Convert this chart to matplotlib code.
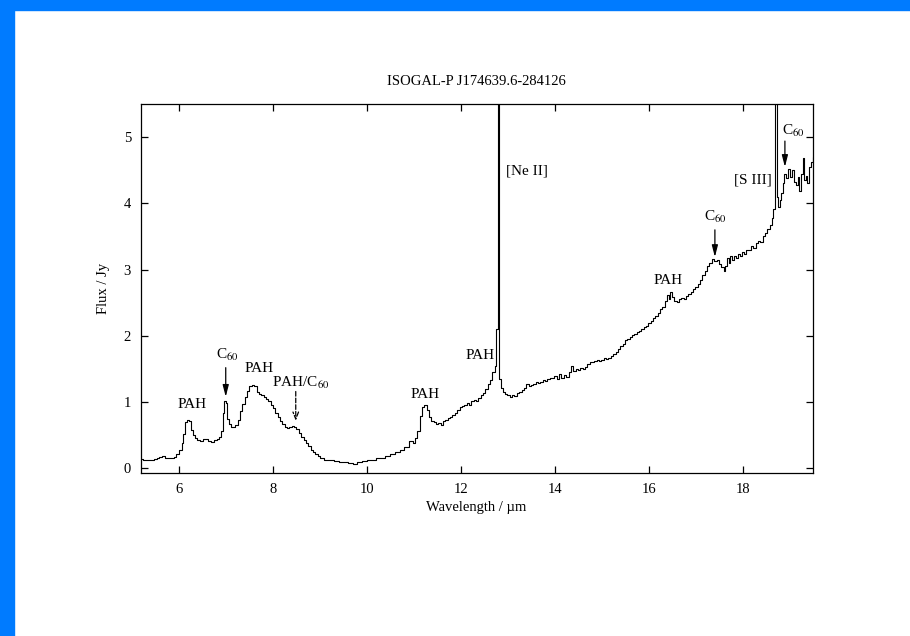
import matplotlib
matplotlib.use('Agg')
import matplotlib.pyplot as plt
from matplotlib.patches import Rectangle

plt.rcParams['font.family'] = ['Liberation Serif', 'DejaVu Serif']
plt.rcParams['mathtext.fontset'] = 'stix'

# spectrum (wavelength in micron, flux in Jy)
wave = [
    5.20, 5.26, 5.32, 5.38, 5.44, 5.50, 5.56, 5.62, 5.68, 5.74,
    5.80, 5.86, 5.92, 5.98, 6.04, 6.08, 6.12, 6.16, 6.20, 6.24,
    6.28, 6.32, 6.36, 6.42, 6.48, 6.54, 6.60, 6.66, 6.72, 6.78,
    6.84, 6.88, 6.92, 6.95, 6.98, 7.01, 7.04, 7.08, 7.13, 7.18,
    7.23, 7.28, 7.33, 7.38, 7.43, 7.48, 7.53, 7.58, 7.63, 7.68,
    7.73, 7.78, 7.83, 7.88, 7.93, 7.98, 8.03, 8.08, 8.13, 8.18,
    8.23, 8.28, 8.33, 8.38, 8.43, 8.48, 8.53, 8.58, 8.63, 8.68,
    8.73, 8.78, 8.83, 8.88, 8.93, 8.98, 9.05, 9.15, 9.25, 9.35,
    9.45, 9.55, 9.65, 9.75, 9.85, 9.95, 10.05, 10.15, 10.25, 10.35,
    10.45, 10.55, 10.65, 10.75, 10.85, 10.95, 11.00, 11.05, 11.10, 11.15,
    11.20, 11.25, 11.30, 11.35, 11.40, 11.45, 11.50, 11.55, 11.60, 11.65,
    11.70, 11.75, 11.80, 11.85, 11.90, 11.95, 12.00, 12.05, 12.10, 12.15,
    12.20, 12.25, 12.30, 12.35, 12.40, 12.45, 12.50, 12.55, 12.60, 12.65,
    12.70, 12.74, 12.78, 12.81, 12.84, 12.88, 12.92, 12.97, 13.02, 13.07,
    13.12, 13.17, 13.22, 13.27, 13.32, 13.37, 13.42, 13.47, 13.52, 13.57,
    13.62, 13.67, 13.72, 13.77, 13.82, 13.87, 13.92, 13.97, 14.02, 14.07,
    14.12, 14.17, 14.22, 14.27, 14.32, 14.37, 14.42, 14.47, 14.52, 14.57,
    14.62, 14.67, 14.72, 14.77, 14.82, 14.87, 14.92, 14.97, 15.02, 15.07,
    15.12, 15.17, 15.22, 15.27, 15.32, 15.37, 15.42, 15.47, 15.52, 15.57,
    15.62, 15.67, 15.72, 15.77, 15.82, 15.87, 15.92, 15.97, 16.02, 16.07,
    16.12, 16.17, 16.22, 16.27, 16.32, 16.37, 16.42, 16.45, 16.48, 16.52,
    16.57, 16.62, 16.67, 16.72, 16.77, 16.82, 16.87, 16.92, 16.97, 17.02,
    17.07, 17.12, 17.17, 17.22, 17.27, 17.32, 17.37, 17.42, 17.47, 17.52,
    17.57, 17.62, 17.65, 17.68, 17.72, 17.76, 17.80, 17.84, 17.88, 17.92,
    17.96, 18.00, 18.05, 18.10, 18.15, 18.20, 18.25, 18.30, 18.35, 18.40,
    18.45, 18.50, 18.55, 18.60, 18.64, 18.67, 18.71, 18.74, 18.77, 18.80,
    18.83, 18.87, 18.91, 18.95, 18.99, 19.03, 19.07, 19.11, 19.15, 19.19,
    19.22, 19.26, 19.29, 19.32, 19.36, 19.40, 19.44, 19.48, 19.52,
]
flux = [
    0.14, 0.13, 0.13, 0.12, 0.13, 0.14, 0.15, 0.17, 0.18, 0.16,
    0.15, 0.15, 0.17, 0.21, 0.27, 0.38, 0.52, 0.70, 0.73, 0.72,
    0.58, 0.50, 0.46, 0.43, 0.42, 0.44, 0.45, 0.42, 0.40, 0.43,
    0.44, 0.47, 0.56, 0.84, 1.02, 0.98, 0.75, 0.67, 0.63, 0.62,
    0.65, 0.73, 0.86, 0.97, 1.07, 1.17, 1.24, 1.26, 1.25, 1.15,
    1.12, 1.10, 1.08, 1.05, 1.01, 0.96, 0.91, 0.84, 0.78, 0.72,
    0.67, 0.63, 0.61, 0.62, 0.64, 0.63, 0.59, 0.54, 0.48, 0.43,
    0.38, 0.33, 0.28, 0.24, 0.21, 0.19, 0.16, 0.13, 0.12, 0.11,
    0.10, 0.09, 0.08, 0.07, 0.09, 0.11, 0.12, 0.13, 0.15, 0.16,
    0.19, 0.21, 0.25, 0.28, 0.32, 0.42, 0.38, 0.46, 0.57, 0.79,
    0.92, 0.96, 0.88, 0.77, 0.72, 0.70, 0.67, 0.69, 0.66, 0.72,
    0.73, 0.76, 0.78, 0.80, 0.84, 0.88, 0.92, 0.94, 0.96, 0.98,
    0.96, 1.01, 1.03, 1.02, 1.06, 1.10, 1.14, 1.20, 1.27, 1.33,
    1.45, 1.55, 2.10, 7.00, 1.35, 1.22, 1.15, 1.12, 1.10, 1.08,
    1.11, 1.09, 1.13, 1.15, 1.18, 1.22, 1.27, 1.25, 1.26, 1.28,
    1.30, 1.29, 1.31, 1.33, 1.32, 1.35, 1.37, 1.36, 1.40, 1.35,
    1.43, 1.37, 1.41, 1.38, 1.45, 1.55, 1.47, 1.50, 1.49, 1.51,
    1.50, 1.53, 1.58, 1.61, 1.60, 1.62, 1.63, 1.62, 1.64, 1.66,
    1.65, 1.67, 1.70, 1.72, 1.75, 1.80, 1.85, 1.88, 1.93, 1.96,
    1.98, 2.01, 2.03, 2.06, 2.08, 2.10, 2.13, 2.15, 2.20, 2.23,
    2.27, 2.30, 2.35, 2.40, 2.44, 2.52, 2.62, 2.55, 2.66, 2.58,
    2.53, 2.51, 2.55, 2.57, 2.56, 2.60, 2.63, 2.66, 2.70, 2.74,
    2.79, 2.85, 2.92, 2.98, 3.05, 3.10, 3.16, 3.13, 3.15, 3.08,
    3.04, 2.98, 3.05, 3.17, 3.10, 3.20, 3.14, 3.21, 3.18, 3.23,
    3.21, 3.26, 3.24, 3.30, 3.29, 3.35, 3.33, 3.40, 3.43, 3.42,
    3.50, 3.55, 3.62, 3.68, 3.78, 3.92, 7.00, 4.10, 3.95, 4.05,
    4.15, 4.30, 4.45, 4.38, 4.52, 4.40, 4.50, 4.32, 4.28, 4.40,
    4.18, 4.45, 4.68, 4.35, 4.42, 4.30, 4.55, 4.62, 4.70,
]

# feature labels: (text, x, y)
labels = [
    ('PAH', 6.28, 0.97),
    ('C$_{60}$', 7.03, 1.71),
    ('PAH', 7.71, 1.51),
    ('PAH/C$_{60}$', 8.60, 1.29),
    ('PAH', 11.24, 1.11),
    ('PAH', 12.41, 1.71),
    ('PAH', 16.42, 2.84),
    ('C$_{60}$', 17.43, 3.80),
    ('C$_{60}$', 19.08, 5.10),
]
# arrows: (x, y_from, y_to, dashed)
arrows = [
    (7.00, 1.52, 1.08, False),
    (8.49, 1.16, 0.72, True),
    (17.41, 3.60, 3.19, False),
    (18.90, 4.94, 4.55, False),
]

fig = plt.figure(figsize=(9.1, 6.36), dpi=100)
ax = fig.add_axes([0.1546, 0.2563, 0.7384, 0.5802])

ax.plot(wave, flux, color='black', lw=0.8, drawstyle='steps-mid')

for txt, x, y in labels:
    ax.text(x, y, txt, ha='center', va='center', fontsize=11)
ax.text(12.96, 4.49, '[Ne II]', ha='left', va='center', fontsize=11)
ax.text(18.62, 4.35, '[S III]', ha='right', va='center', fontsize=11)

for x, y0, y1, dashed in arrows:
    if dashed:
        style = dict(arrowstyle='->,head_length=0.5,head_width=0.2', linestyle='--')
    else:
        style = dict(arrowstyle='-|>,head_length=0.7,head_width=0.18')
    ax.annotate('', xy=(x, y1), xytext=(x, y0),
                arrowprops=dict(color='black', lw=0.9, shrinkA=0, shrinkB=0, **style))

ax.set_xlim(5.19, 19.49)
ax.set_ylim(-0.07, 5.5)
ax.set_xticks([6, 8, 10, 12, 14, 16, 18])
ax.set_yticks([0, 1, 2, 3, 4, 5])
ax.tick_params(direction='in', top=True, right=True, length=5, width=0.9,
               labelsize=10.5, pad=7)
for s in ax.spines.values():
    s.set_linewidth(0.9)

ax.set_title('ISOGAL-P J174639.6-284126', fontsize=10.5, pad=14)
ax.set_xlabel('Wavelength / µm', fontsize=10.5, labelpad=4)
ax.set_ylabel('Flux / Jy', fontsize=10.5, labelpad=10)

# blue frame on the top and left edges
fig.patches.append(Rectangle((0, 1 - 10 / 636), 1, 10 / 636, transform=fig.transFigure,
                             color='#007BFF', zorder=10))
fig.patches.append(Rectangle((0, 0), 14 / 910, 1, transform=fig.transFigure,
                             color='#007BFF', zorder=10))

fig.savefig('out.png', dpi=100)
